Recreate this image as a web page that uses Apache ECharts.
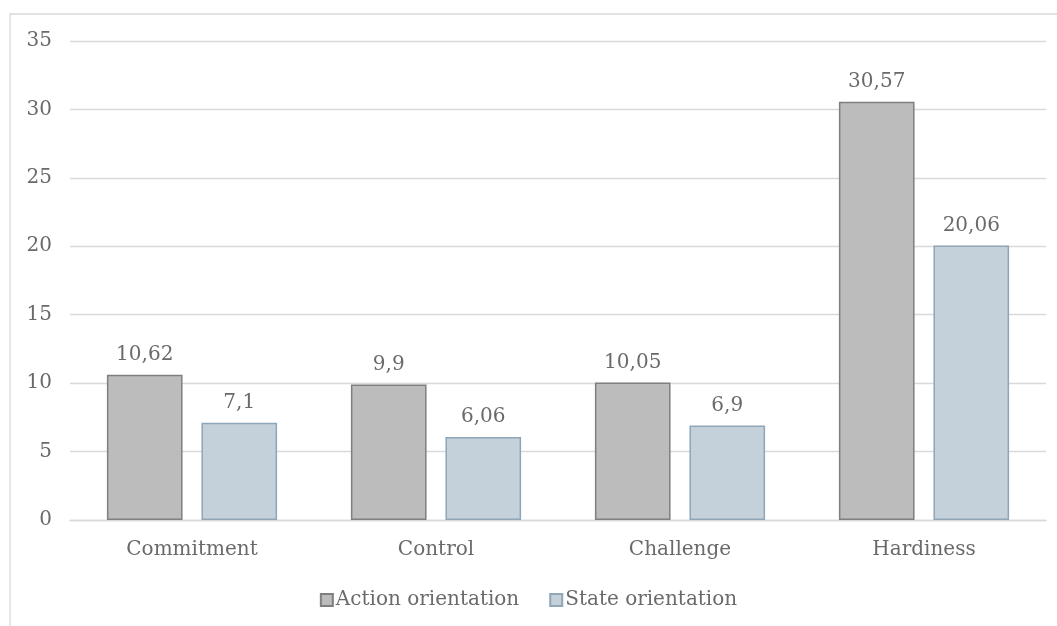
<!DOCTYPE html>
<html>
<head>
<meta charset="utf-8">
<script src="https://cdn.jsdelivr.net/npm/echarts@6/dist/echarts.min.js"></script>
<style>
html,body{margin:0;padding:0;background:#fff;}
#chart{width:1057px;height:626px;}
</style>
</head>
<body>
<div id="chart"></div>
<script>
const categories = ['Commitment', 'Control', 'Challenge', 'Hardiness'];
const actionOrientation = [10.62, 9.9, 10.05, 30.57];
const stateOrientation = [7.1, 6.06, 6.9, 20.06];
const seriesNames = ['Action orientation', 'State orientation'];

const FONT = '"DejaVu Serif", "Liberation Serif", serif';
const TXT = '#6a6a6a';
const FS = 20;
const fmt = p => String(p.value).replace('.', ',');

const chart = echarts.init(document.getElementById('chart'), null, {renderer: 'canvas'});
chart.setOption({
  animation: false,
  backgroundColor: '#fff',
  textStyle: {fontFamily: FONT},
  graphic: [{
    type: 'rect',
    shape: {x: 10, y: 14, width: 1100, height: 700},
    style: {fill: 'none', stroke: '#d9d9d9', lineWidth: 1.3},
    silent: true
  }],
  grid: {left: 70, right: 11, top: 41, bottom: 106},
  legend: {
    bottom: 11,
    left: 'center',
    itemWidth: 12,
    itemHeight: 12,
    itemGap: 30,
    icon: 'rect',
    textStyle: {color: TXT, fontFamily: FONT, fontSize: FS, padding: [0, 0, 0, -2]},
    data: seriesNames
  },
  xAxis: {
    type: 'category',
    data: categories,
    axisLine: {lineStyle: {color: '#d9d9d9', width: 1.3}},
    axisTick: {show: false},
    axisLabel: {color: TXT, fontFamily: FONT, fontSize: FS, margin: 20}
  },
  yAxis: {
    type: 'value',
    min: 0, max: 35, interval: 5,
    axisLine: {show: false},
    axisTick: {show: false},
    splitLine: {lineStyle: {color: '#d9d9d9', width: 1.3}},
    axisLabel: {color: TXT, fontFamily: FONT, fontSize: FS, margin: 18}
  },
  series: [{
    name: seriesNames[0],
    type: 'bar',
    data: actionOrientation,
    barWidth: '31%',
    barGap: '25%',
    itemStyle: {color: '#bcbcbc', borderColor: '#7f7f7f', borderWidth: 1.5},
    label: {show: true, position: 'top', distance: 10, color: TXT, fontFamily: FONT, fontSize: FS, formatter: fmt}
  }, {
    name: seriesNames[1],
    type: 'bar',
    data: stateOrientation,
    barWidth: '31%',
    itemStyle: {color: '#c4d0da', borderColor: '#8fa5b8', borderWidth: 1.5},
    label: {show: true, position: 'top', distance: 10, color: TXT, fontFamily: FONT, fontSize: FS, formatter: fmt}
  }]
});
</script>
</body>
</html>
